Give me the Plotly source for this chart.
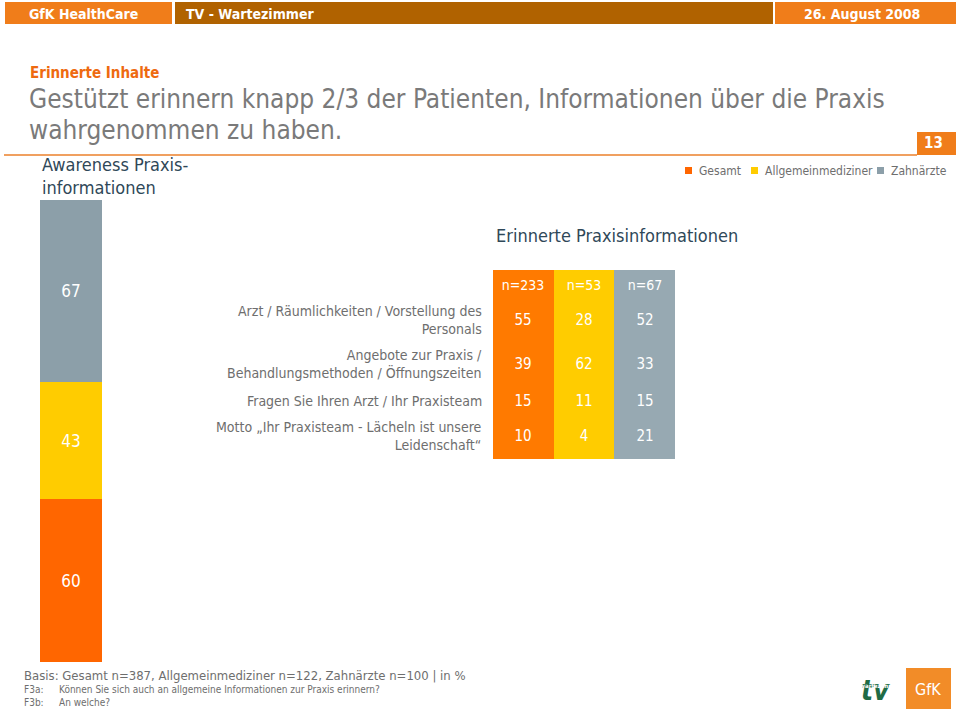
import plotly.graph_objects as go

# Daten
GRUPPEN = ["Gesamt", "Allgemeinmediziner", "Zahnärzte"]
FARBEN_BALKEN = ["#FF6600", "#FFCC00", "#8C9FA9"]
FARBEN_TABELLE = ["#FF7A00", "#FFCC00", "#97A9B2"]

AWARENESS = [60, 43, 67]  # Gesamt, Allgemeinmediziner, Zahnärzte

FALLZAHLEN = ["n=233", "n=53", "n=67"]
INHALTE = [
    "Arzt / Räumlichkeiten / Vorstellung des<br>Personals",
    "Angebote zur Praxis /<br>Behandlungsmethoden / Öffnungszeiten",
    "Fragen Sie Ihren Arzt / Ihr Praxisteam",
    "Motto „Ihr Praxisteam - Lächeln ist unsere<br>Leidenschaft“",
]
WERTE_GESAMT = [55, 39, 15, 10]
WERTE_ALLG = [28, 62, 11, 4]
WERTE_ZAHN = [52, 33, 15, 21]
ZEILEN_GRENZEN = [0, 30, 70, 118, 143, 189]  # Zeilenhoehen der Tabelle

W, H = 960, 711
FONT = "DejaVu Sans Condensed, DejaVu Sans, Verdana, sans-serif"
GRAU = "#6E6E6E"
TAB_X0, TAB_X1 = 493, 675


def px_x(v):
    return v / W


def px_y(v):
    return 1 - v / H


fig = go.Figure()

# gestapelter Balken
for name, wert, farbe in zip(GRUPPEN, AWARENESS, FARBEN_BALKEN):
    fig.add_trace(
        go.Bar(
            x=[""],
            y=[wert],
            name=name,
            marker=dict(color=farbe, line_width=0),
            text=[str(wert)],
            textposition="inside",
            insidetextanchor="middle",
            textfont=dict(color="white", size=17, family=FONT),
            hoverinfo="skip",
            showlegend=False,
        )
    )

# Tabelle als Heatmap
werte_spalten = [WERTE_GESAMT, WERTE_ALLG, WERTE_ZAHN]
tabelle_text = [[f"<span style='font-size:14px'>{n}</span>" for n in FALLZAHLEN]] + [
    [str(werte_spalten[j][i]) for j in range(3)] for i in range(len(INHALTE))
]
tabelle_z = [[0, 1, 2] for _ in tabelle_text]
fig.add_trace(
    go.Heatmap(
        x=[0, 1, 2, 3],
        y=ZEILEN_GRENZEN,
        z=tabelle_z,
        text=tabelle_text,
        texttemplate="%{text}",
        textfont=dict(color="white", size=15, family=FONT),
        colorscale=[
            [0, FARBEN_TABELLE[0]], [0.333, FARBEN_TABELLE[0]],
            [0.334, FARBEN_TABELLE[1]], [0.666, FARBEN_TABELLE[1]],
            [0.667, FARBEN_TABELLE[2]], [1, FARBEN_TABELLE[2]],
        ],
        zmin=0,
        zmax=2,
        showscale=False,
        hoverinfo="skip",
        xaxis="x2",
        yaxis="y2",
    )
)

annotations = []

# Zeilenbeschriftungen
for i, label in enumerate(INHALTE):
    yc = (ZEILEN_GRENZEN[i + 1] + ZEILEN_GRENZEN[i + 2]) / 2
    annotations.append(
        dict(
            x=px_x(TAB_X0 - 9), y=yc, xref="paper", yref="y2", text=label,
            showarrow=False, xanchor="right", yanchor="middle", align="right",
            font=dict(size=14, color=GRAU, family=FONT),
        )
    )


def rect(x0, x1, y0, y1, farbe):
    return dict(
        type="rect", xref="paper", yref="paper",
        x0=px_x(x0), x1=px_x(x1), y0=px_y(y1), y1=px_y(y0),
        fillcolor=farbe, line_width=0, layer="below",
    )


shapes = [
    # Kopfleiste
    rect(5, 172, 2, 24, "#F07D1A"),
    rect(175, 773, 2, 24, "#B06200"),
    rect(775, 956, 2, 24, "#F07D1A"),
    # Trennlinie + Seitenzahl
    dict(type="line", xref="paper", yref="paper", x0=px_x(4), x1=px_x(917),
         y0=px_y(155), y1=px_y(155), line=dict(color="#F0A060", width=2)),
    rect(917, 956, 132, 155, "#F07D1A"),
    # Logo
    rect(906, 951, 668, 709, "#F28C28"),
]

# Legende
legende_pos = [(685, 697), (751, 763), (877, 889)]
for (sx, tx), name, farbe in zip(legende_pos, GRUPPEN, FARBEN_BALKEN):
    shapes.append(rect(sx, sx + 7, 167, 174, farbe))
    annotations.append(
        dict(
            x=px_x(tx), y=px_y(171), xref="paper", yref="paper", text=name,
            showarrow=False, xanchor="left", yanchor="middle",
            font=dict(size=12, color=GRAU, family=FONT),
        )
    )

texte = [
    dict(x=27, y=14, text="<b>GfK HealthCare</b>", size=14, color="white"),
    dict(x=184, y=14, text="<b>TV - Wartezimmer</b>", size=14, color="white"),
    dict(x=802, y=14, text="<b>26. August 2008</b>", size=14, color="white"),
    dict(x=28, y=73, text="<b>Erinnerte Inhalte</b>", size=15, color="#EE6A10"),
    dict(x=27, y=99, text="Gestützt erinnern knapp 2/3 der Patienten, Informationen über die Praxis", size=26, color="#7A7A7A"),
    dict(x=27, y=130, text="wahrgenommen zu haben.", size=26, color="#7A7A7A"),
    dict(x=922, y=143, text="<b>13</b>", size=15, color="white"),
    dict(x=40, y=176, text="Awareness Praxis-<br>informationen", size=18, color="#2F4858"),
    dict(x=494, y=235, text="Erinnerte Praxisinformationen", size=18, color="#2F4858"),
    dict(x=22, y=675, text="Basis: Gesamt n=387, Allgemeinmediziner n=122, Zahnärzte n=100 | in %", size=13, color=GRAU),
    dict(x=22, y=689, text="F3a:", size=10, color=GRAU),
    dict(x=57, y=689, text="Können Sie sich auch an allgemeine Informationen zur Praxis erinnern?", size=10, color=GRAU),
    dict(x=22, y=702, text="F3b:", size=10, color=GRAU),
    dict(x=57, y=702, text="An welche?", size=10, color=GRAU),
    dict(x=913, y=689, text="GfK", size=16, color="white"),
    dict(x=859, y=690, text="<b><i>tv</i></b>", size=28, color="#1F6B45"),
    dict(x=858, y=685, text="<b>wartezimmer</b>", size=6, color="white"),
]
for t in texte:
    annotations.append(
        dict(
            x=px_x(t["x"]), y=px_y(t["y"]), xref="paper", yref="paper",
            text=t["text"], showarrow=False, xanchor="left", yanchor="middle",
            align="left", font=dict(size=t["size"], color=t["color"], family=FONT),
        )
    )

fig.update_layout(
    width=W,
    height=H,
    margin=dict(l=0, r=0, t=0, b=0),
    paper_bgcolor="white",
    plot_bgcolor="white",
    barmode="stack",
    bargap=0,
    font=dict(family=FONT, color=GRAU),
    showlegend=False,
    xaxis=dict(domain=[px_x(40), px_x(102)], visible=False, fixedrange=True),
    yaxis=dict(domain=[px_y(662), px_y(200)], range=[0, 170], visible=False, fixedrange=True),
    xaxis2=dict(domain=[px_x(TAB_X0), px_x(TAB_X1)], range=[0, 3], visible=False, anchor="y2"),
    yaxis2=dict(domain=[px_y(459), px_y(270)], range=[189, 0], visible=False, anchor="x2"),
    shapes=shapes,
    annotations=annotations,
)

fig.write_html(
    "out.html",
    config={"displayModeBar": False},
    post_script="document.body.style.margin='0';",
)
